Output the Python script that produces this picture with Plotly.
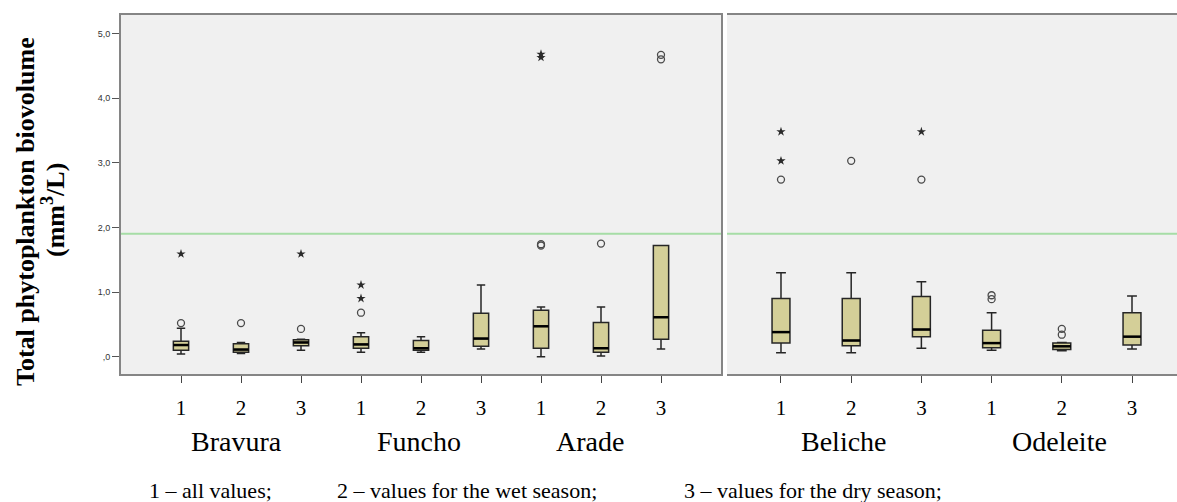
import plotly.graph_objects as go

# ---------------- data (mm3/L) ----------------
left_groups = ["Bravura", "Funcho", "Arade"]
right_groups = ["Beliche", "Odeleite"]
subset_labels = ["1", "2", "3"]

left_pos = [1, 2, 3, 4, 5, 6, 7, 8, 9]
left_low = [0.04, 0.05, 0.10, 0.07, 0.07, 0.12, 0.00, 0.01, 0.12]
left_q1 = [0.10, 0.07, 0.17, 0.13, 0.10, 0.16, 0.13, 0.07, 0.27]
left_median = [0.18, 0.11, 0.22, 0.19, 0.13, 0.28, 0.47, 0.13, 0.61]
left_q3 = [0.24, 0.20, 0.26, 0.31, 0.25, 0.67, 0.72, 0.53, 1.72]
left_high = [0.44, 0.22, 0.27, 0.37, 0.31, 1.11, 0.77, 0.77, 1.72]

right_pos = [1, 2, 3, 4, 5, 6]
right_low = [0.06, 0.06, 0.13, 0.10, 0.09, 0.12]
right_q1 = [0.21, 0.17, 0.31, 0.14, 0.11, 0.18]
right_median = [0.38, 0.25, 0.42, 0.21, 0.16, 0.31]
right_q3 = [0.90, 0.90, 0.93, 0.41, 0.21, 0.68]
right_high = [1.30, 1.30, 1.16, 0.68, 0.22, 0.94]

left_circle_x = [1, 2, 3, 4, 7, 7, 8, 9, 9]
left_circle_y = [0.52, 0.52, 0.43, 0.68, 1.72, 1.74, 1.75, 4.60, 4.67]
left_star_x = [1, 3, 4, 4, 7, 7]
left_star_y = [1.59, 1.59, 0.90, 1.11, 4.63, 4.68]

right_circle_x = [1, 2, 3, 4, 4, 5, 5]
right_circle_y = [2.74, 3.03, 2.74, 0.89, 0.95, 0.34, 0.43]
right_star_x = [1, 1, 3]
right_star_y = [3.03, 3.48, 3.48]

threshold = 1.9
y_tickvals = [0, 1, 2, 3, 4, 5]
y_ticktext = [",0", "1,0", "2,0", "3,0", "4,0", "5,0"]
legend_texts = ["1 \u2013 all values;", "2 \u2013 values for the wet season;",
                "3 \u2013 values for the dry season;"]

# ---------------- style ----------------
W, H = 1177, 502
BOX_FILL = "#D4CF98"
BOX_LINE = "#262626"
BG = "#F0F0F0"
BORDER = "#858585"
SERIF = "Liberation Serif, Times New Roman, serif"
BOX_W = 0.255
name_shift_left = [-0.08, -0.03, -0.18]
name_shift_right = [-0.1, -0.03]


def px_x(p):
    return p / W


def px_y(p):
    return 1 - p / H


fig = go.Figure()


def add_panel(pos, low, q1, med, q3, high, cx, cy, sx, sy, xa, ya):
    fig.add_trace(go.Box(
        x=pos, q1=q1, median=med, q3=q3, lowerfence=low, upperfence=high,
        boxpoints=False, width=BOX_W, whiskerwidth=0.55,
        fillcolor=BOX_FILL, line=dict(color=BOX_LINE, width=1.5),
        xaxis=xa, yaxis=ya, showlegend=False, hoverinfo="skip"))
    mx, my = [], []
    for p, m in zip(pos, med):
        mx += [p - BOX_W / 2, p + BOX_W / 2, None]
        my += [m, m, None]
    fig.add_trace(go.Scatter(x=mx, y=my, mode="lines",
                             line=dict(color="#000000", width=2.5),
                             xaxis=xa, yaxis=ya, showlegend=False, hoverinfo="skip"))
    fig.add_trace(go.Scatter(x=cx, y=cy, mode="markers",
                             marker=dict(symbol="circle-open", size=7,
                                         color="#4a4a4a", line=dict(width=1.3)),
                             xaxis=xa, yaxis=ya, showlegend=False, hoverinfo="skip"))
    fig.add_trace(go.Scatter(x=sx, y=sy, mode="markers",
                             marker=dict(symbol="star", size=7, color="#2a2a2a"),
                             xaxis=xa, yaxis=ya, showlegend=False, hoverinfo="skip"))


add_panel(left_pos, left_low, left_q1, left_median, left_q3, left_high,
          left_circle_x, left_circle_y, left_star_x, left_star_y, "x", "y")
add_panel(right_pos, right_low, right_q1, right_median, right_q3, right_high,
          right_circle_x, right_circle_y, right_star_x, right_star_y, "x2", "y2")

y_range = [-0.268, 5.286]
y_dom = [px_y(374), px_y(15)]

xaxis_common = dict(
    showgrid=False, zeroline=False, showline=True, mirror=True,
    linecolor=BORDER, linewidth=2, ticks="outside", ticklen=7,
    tickcolor="#444", tickwidth=1,
    tickfont=dict(family=SERIF, size=21, color="#000"),
    ticklabelstandoff=7,
)

fig.update_layout(
    width=W, height=H,
    margin=dict(l=0, r=0, t=0, b=0),
    paper_bgcolor="white", plot_bgcolor=BG,
    xaxis=dict(domain=[px_x(121), px_x(721)], range=[0, 10],
               tickvals=left_pos, ticktext=subset_labels * 3, **xaxis_common),
    yaxis=dict(domain=y_dom, range=y_range, showgrid=False, zeroline=False,
               showline=True, mirror=True, linecolor=BORDER, linewidth=2,
               ticks="outside", ticklen=7, tickcolor="#555",
               tickvals=y_tickvals, ticktext=y_ticktext,
               tickfont=dict(family="Liberation Sans, Arial, sans-serif",
                             size=9, color="#333")),
    xaxis2=dict(domain=[px_x(727), 1.0], range=[0.231, 6.641],
                tickvals=right_pos, ticktext=subset_labels * 2, anchor="y2",
                **xaxis_common),
    yaxis2=dict(domain=y_dom, range=y_range, anchor="x2", showgrid=False,
                zeroline=False, showline=False, showticklabels=False, ticks=""),
)

# threshold line in each panel
for xr, yr in (("x domain", "y"), ("x2 domain", "y2")):
    fig.add_shape(type="line", xref=xr, yref=yr, x0=0, x1=1,
                  y0=threshold, y1=threshold,
                  line=dict(color="#A6DDA6", width=2), layer="below")

# group names
name_y = px_y(441)
for i, g in enumerate(left_groups):
    fig.add_annotation(x=left_pos[3 * i + 1] + name_shift_left[i], y=name_y,
                       xref="x", yref="paper", text=g, showarrow=False,
                       font=dict(family=SERIF, size=28, color="#000"),
                       xanchor="center", yanchor="middle")
for i, g in enumerate(right_groups):
    fig.add_annotation(x=right_pos[3 * i + 1] + name_shift_right[i], y=name_y,
                       xref="x2", yref="paper", text=g, showarrow=False,
                       font=dict(family=SERIF, size=28, color="#000"),
                       xanchor="center", yanchor="middle")

# footer legend
for t, xp in zip(legend_texts, [147, 335, 682]):
    fig.add_annotation(x=px_x(xp), y=px_y(490), xref="paper", yref="paper",
                       text=t, showarrow=False, xanchor="left", yanchor="middle",
                       font=dict(family=SERIF, size=22, color="#000"))

# y-axis title (two lines)
fig.add_annotation(x=px_x(25), y=px_y(212), xref="paper", yref="paper",
                   text="<b>Total phytoplankton biovolume</b>", textangle=-90,
                   showarrow=False, xanchor="center", yanchor="middle",
                   font=dict(family=SERIF, size=26, color="#000"))
fig.add_annotation(x=px_x(53), y=px_y(210), xref="paper", yref="paper",
                   text="<b>(mm<sup>3</sup>/L)</b>", textangle=-90,
                   showarrow=False, xanchor="center", yanchor="middle",
                   font=dict(family=SERIF, size=26, color="#000"))

fig.write_html("out.html")
